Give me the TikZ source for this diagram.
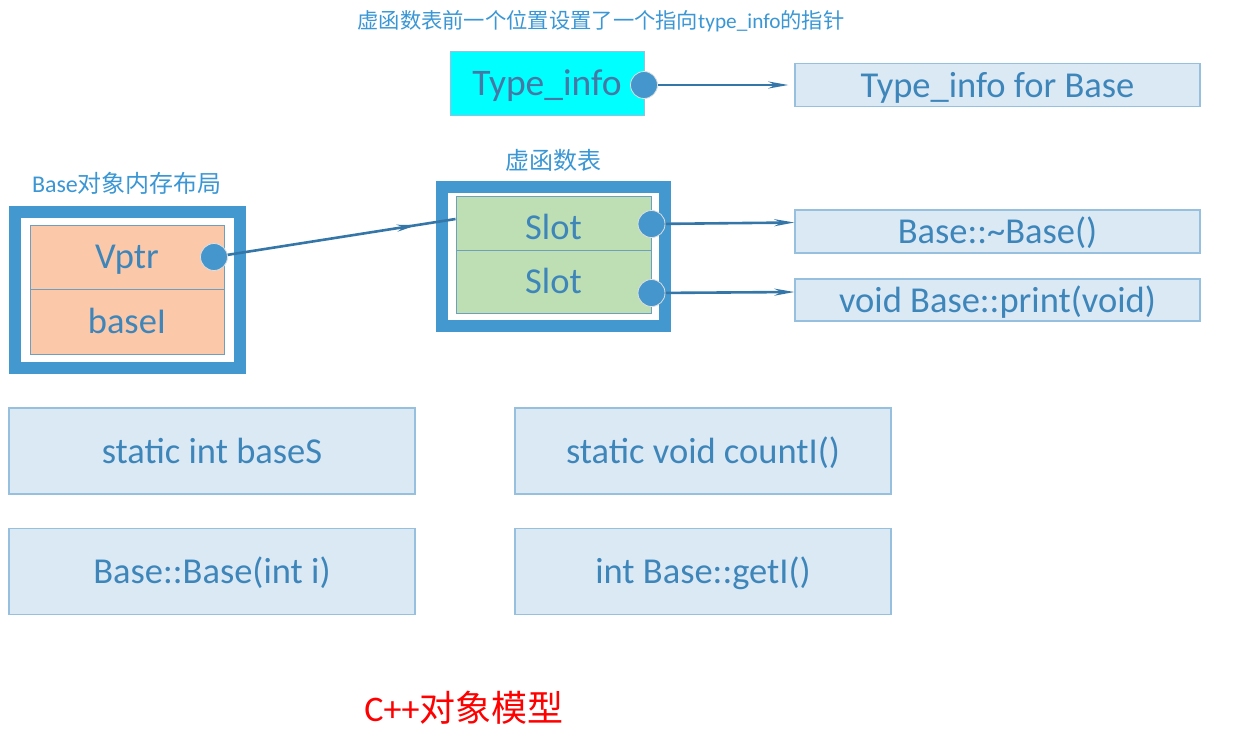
\documentclass[tikz,border=0pt]{standalone}
\usepackage{fontspec}
\setmainfont{Carlito}
\newfontfamily\cjk{Noto Sans CJK SC}
\usetikzlibrary{arrows.meta,decorations.markings,calc}
\definecolor{txtblue}{RGB}{62,134,186}
\definecolor{ttlblue}{RGB}{58,150,212}
\definecolor{frameblue}{RGB}{66,152,207}
\definecolor{lightfill}{RGB}{219,233,245}
\definecolor{lightborder}{RGB}{150,192,222}
\definecolor{linecol}{RGB}{52,118,168}
\definecolor{dotcol}{RGB}{69,150,205}
\definecolor{slotfill}{RGB}{190,223,180}
\definecolor{slotborder}{RGB}{110,160,190}
\definecolor{objfill}{RGB}{252,200,170}
\definecolor{cyanfill}{RGB}{0,255,255}
\tikzset{
  bigtxt/.style={font=\fontsize{36.5}{40}\selectfont, text=txtblue, text height=24pt, text depth=0pt},
  lbox/.style={draw=lightborder, fill=lightfill, line width=1.2pt, inner sep=0pt, bigtxt},
  frame/.style={draw=frameblue, line width=12pt, fill=white, inner sep=0pt},
  cell/.style={draw=slotborder, line width=1pt, inner sep=0pt, bigtxt, text height=23pt},
  dot/.style={circle, fill=dotcol, draw=white!75!gray, line width=0.8pt, minimum size=27pt, inner sep=0pt},
  conn/.style={draw=linecol, line width=2.6pt, -{Stealth[length=20pt,width=7pt]}},
}
\begin{document}
\begin{tikzpicture}[x=1pt,y=-1pt]
\useasboundingbox (0,0) rectangle (1243,737);
% titles
\node[text=ttlblue, font=\fontsize{21.3}{24}\selectfont] (title) at (601,21) {{\cjk 虚函数表前一个位置设置了一个指向}type\_info{\cjk 的指针}};
\node[text=ttlblue, font=\fontsize{24}{28}\selectfont] (vtlabel) at (553,160) {\cjk 虚函数表};
\node[text=ttlblue, font=\fontsize{24}{28}\selectfont] (objlabel) at (127,183) {Base{\cjk 对象内存布局}};
\node[text=red, font=\fontsize{36}{40}\selectfont] (model) at (464,708) {C++{\cjk 对象模型}};
% type info
\node[draw=lightborder, fill=cyanfill, line width=1pt, inner sep=0pt, minimum width=194pt, minimum height=64pt, font=\fontsize{37.5}{40}\selectfont, text height=24pt, text depth=0pt, text={rgb,255:red,70;green,120;blue,165}] (ti) at (547,83) {Type\_info};
\node[lbox, minimum width=405pt, minimum height=43pt] (tib) at (997.5,85) {Type\_info for Base};
% vtable
\node[frame, minimum width=223pt, minimum height=139pt] (vt) at (553.5,256.5) {};
\node[cell, fill=slotfill, minimum width=195pt, minimum height=54pt, text height=32pt] (slot1) at (553.5,223.5) {Slot};
\node[cell, fill=slotfill, minimum width=195pt, minimum height=63pt] (slot2) at (553.5,282) {Slot};
% object
\node[frame, minimum width=225pt, minimum height=156pt] (obj) at (127,289.5) {};
\node[cell, fill=objfill, minimum width=194pt, minimum height=64pt] (vptr) at (127,257) {Vptr};
\node[cell, fill=objfill, minimum width=194pt, minimum height=65pt] (basei) at (127,321.5) {baseI};
% function boxes
\node[lbox, minimum width=405pt, minimum height=43pt] (dtor) at (997.5,231.5) {Base::\~{}Base()};
\node[lbox, minimum width=405pt, minimum height=42pt] (print) at (997.5,300) {void Base::print(void)};
% bottom boxes
\node[lbox, minimum width=406pt, minimum height=86pt] (bases) at (212,451) {static int baseS};
\node[lbox, minimum width=376pt, minimum height=86pt] (count) at (703,451) {static void countI()};
\node[lbox, minimum width=406pt, minimum height=86pt] (ctor) at (212,571.5) {Base::Base(int i)};
\node[lbox, minimum width=376pt, minimum height=86pt] (geti) at (703,571.5) {int Base::getI()};
% dots
\coordinate (d0) at (644,85);
\coordinate (d1) at (651.5,224);
\coordinate (d2) at (651.5,293);
\coordinate (d3) at (214,257);
% connectors
\draw[conn] (d0) -- ([xshift=-6pt]d0 -| tib.west);
\draw[conn] (d1) -- ([yshift=1.5pt]d1 -| dtor.west);
\draw[conn] (d2) -- ([yshift=1pt]d2 -| print.west);
\draw[draw=linecol, line width=2.6pt, postaction={decorate}, decoration={markings, mark=at position 0.84 with {\arrow{Stealth[length=20pt,width=7pt]}}}] (d3) -- ([yshift=4.5pt]slot1.west);
\node[dot] (c0) at (d0) {};
\node[dot] (c1) at (d1) {};
\node[dot] (c2) at (d2) {};
\node[dot] (c3) at (d3) {};
\end{tikzpicture}
\end{document}
